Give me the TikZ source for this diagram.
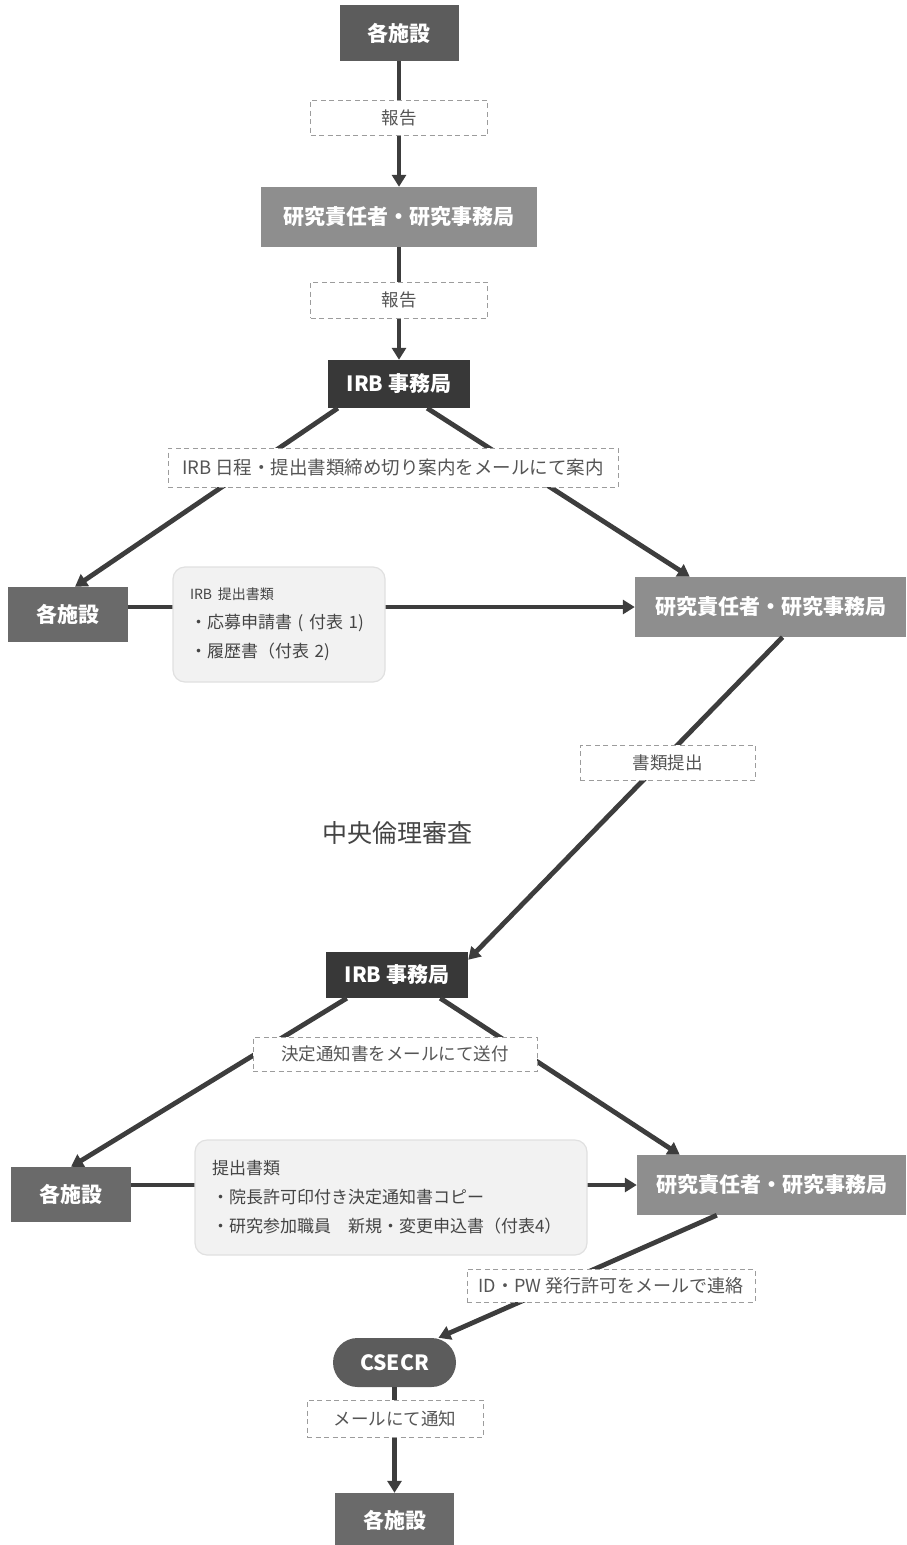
\documentclass[tikz,border=0pt]{standalone}
\usepackage{fontspec}
\setmainfont{Noto Sans CJK JP}
\usetikzlibrary{arrows.meta,calc}
\definecolor{cTop}{HTML}{5C5C5C}
\definecolor{cRes}{HTML}{8E8E8E}
\definecolor{cIRB}{HTML}{383838}
\definecolor{cFac}{HTML}{6A6A6A}
\definecolor{cArr}{HTML}{3D3D3D}
\definecolor{cLbl}{HTML}{555555}
\definecolor{cDash}{HTML}{9C9C9C}
\definecolor{cDoc}{HTML}{F2F2F2}
\definecolor{cDocB}{HTML}{E0E0E0}
\definecolor{cTxt}{HTML}{444444}
\tikzset{
  box/.style={rectangle, inner sep=0pt, text=white, font=\fontsize{21}{24}\selectfont\bfseries},
  lbl/.style={rectangle, draw=cDash, dash pattern=on 5pt off 3.5pt, line width=0.9pt, fill=white,
              text=cLbl, inner sep=0pt, font=\fontsize{17.5}{20}\selectfont},
  arr/.style={draw=cArr, line width=4.8pt, -{Triangle[width=14pt,length=12pt]}},
  doc/.style={rectangle, rounded corners=12pt, fill=cDoc, draw=cDocB, line width=1.2pt,
              inner xsep=17pt, inner ysep=0pt, align=left, text=cTxt,
              font=\fontsize{17}{29}\selectfont},
}
\begin{document}
\begin{tikzpicture}[x=1pt,y=-1pt]
\useasboundingbox (0,0) rectangle (906,1545);
% main boxes
\node[box, fill=cTop, minimum width=119pt, minimum height=56pt] (f1) at (399,33) {各施設};
\node[box, fill=cRes, minimum width=276pt, minimum height=60pt] (r1) at (399,217) {研究責任者・研究事務局};
\node[box, fill=cIRB, minimum width=142pt, minimum height=48pt] (irb1) at (399,384) {IRB 事務局};
\node[box, fill=cFac, minimum width=120pt, minimum height=55pt] (f2) at (68,614.5) {各施設};
\node[box, fill=cRes, minimum width=271pt, minimum height=60pt] (r2) at (770.5,607) {研究責任者・研究事務局};
\node[box, fill=cIRB, minimum width=142pt, minimum height=46pt] (irb2) at (397,975) {IRB 事務局};
\node[box, fill=cFac, minimum width=120pt, minimum height=55pt] (f3) at (71,1194.5) {各施設};
\node[box, fill=cRes, minimum width=269pt, minimum height=60pt] (r3) at (771.5,1185) {研究責任者・研究事務局};
\node[box, fill=cTop, minimum width=123pt, minimum height=49pt, rounded corners=24.5pt] (cs) at (394.5,1362.5) {CSECR};
\node[box, fill=cFac, minimum width=119pt, minimum height=54pt] (f4) at (394.5,1520) {各施設};
% connectors
\draw[arr] (f1.south) -- (r1.north);
\draw[arr] (r1.south) -- (irb1.north);
\draw[arr] ([xshift=10pt]irb1.south west) -- ([xshift=7pt]f2.north);
\draw[arr] ([xshift=-43pt]irb1.south east) -- ([xshift=55pt]r2.north west);
\draw[arr] (f2.east |- r2.west) -- (r2.west);
\draw[arr] ([xshift=12pt]r2.south) -- ([yshift=-8pt]irb2.north east);
\draw[arr] ([xshift=21pt]irb2.south west) -- (f3.north);
\draw[arr] ([xshift=-28pt]irb2.south east) -- ([xshift=43pt]r3.north west);
\draw[arr] (f3.east |- r3.west) -- (r3.west);
\draw[arr] ([xshift=80pt]r3.south west) -- ([xshift=44pt]cs.north);
\draw[arr] (cs.south) -- (f4.north);
% document boxes
\node[doc, minimum width=212pt, minimum height=115pt, text width=178pt] (d1) at (279,624.5)
  {{\fontsize{14}{29}\selectfont IRB 提出書類}\\・応募申請書 ( 付表 1)\\・履歴書（付表 2)};
\node[doc, minimum width=392pt, minimum height=115pt, text width=358pt] (d2) at (391,1197.5)
  {提出書類\\・院長許可印付き決定通知書コピー\\・研究参加職員　新規・変更申込書（付表4）};
% labels
\node[lbl, minimum width=177pt, minimum height=35pt] (l1) at (399,117.5) {報告};
\node[lbl, minimum width=177pt, minimum height=36pt] (l2) at (399,300) {報告};
\node[lbl, minimum width=450pt, minimum height=39pt, font=\fontsize{18.5}{20}\selectfont] (l3) at (393,467.5) {IRB 日程・提出書類締め切り案内をメールにて案内};
\node[lbl, minimum width=175pt, minimum height=35pt] (l4) at (667.5,762.5) {書類提出};
\node[lbl, minimum width=284pt, minimum height=34pt] (l5) at (395,1054) {決定通知書をメールにて送付};
\node[lbl, minimum width=288pt, minimum height=33pt, font=\fontsize{18}{20}\selectfont] (l6) at (611,1285.5) {ID・PW 発行許可をメールで連絡};
\node[lbl, minimum width=176pt, minimum height=37pt] (l7) at (395,1418.5) {メールにて通知};
% central text
\node[text=cTxt, font=\fontsize{25}{28}\selectfont] (cr) at (397,833) {中央倫理審査};
\end{tikzpicture}
\end{document}
